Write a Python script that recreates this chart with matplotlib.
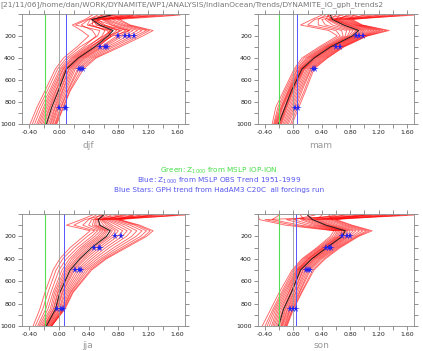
import matplotlib
matplotlib.use('Agg')
import matplotlib.pyplot as plt
from matplotlib.ticker import MultipleLocator

levels = [1000, 850, 700, 500, 400, 300, 200, 150, 100, 50, 10]

djf_members = [
    [-0.39, -0.30, -0.19, -0.05, 0.06, 0.24, 0.40, 0.30, 0.18, 0.35, 0.45],
    [-0.36, -0.27, -0.16, -0.02, 0.10, 0.28, 0.52, 0.55, 0.22, 0.38, 0.60],
    [-0.33, -0.24, -0.13, 0.01, 0.13, 0.33, 0.50, 0.45, 0.30, 0.40, 0.52],
    [-0.30, -0.21, -0.11, 0.03, 0.16, 0.36, 0.60, 0.70, 0.38, 0.42, 0.80],
    [-0.28, -0.19, -0.09, 0.05, 0.18, 0.39, 0.58, 0.62, 0.45, 0.45, 0.65],
    [-0.26, -0.17, -0.07, 0.06, 0.20, 0.41, 0.66, 0.85, 0.50, 0.47, 1.00],
    [-0.24, -0.15, -0.05, 0.08, 0.22, 0.43, 0.62, 0.70, 0.52, 0.44, 0.72],
    [-0.22, -0.13, -0.04, 0.09, 0.24, 0.45, 0.64, 0.72, 0.55, 0.48, 0.58],
    [-0.20, -0.12, -0.02, 0.10, 0.25, 0.47, 0.72, 0.95, 0.58, 0.50, 1.20],
    [-0.18, -0.10, -0.01, 0.11, 0.27, 0.49, 0.68, 0.78, 0.60, 0.46, 0.68],
    [-0.16, -0.08, 0.01, 0.13, 0.28, 0.51, 0.71, 0.82, 0.62, 0.52, 0.90],
    [-0.14, -0.06, 0.02, 0.14, 0.30, 0.53, 0.70, 0.65, 0.40, 0.55, 1.40],
    [-0.12, -0.05, 0.04, 0.16, 0.32, 0.56, 0.78, 0.90, 0.70, 0.50, 0.75],
    [-0.11, -0.03, 0.05, 0.18, 0.34, 0.58, 0.82, 0.95, 0.72, 0.58, 1.10],
    [-0.09, -0.02, 0.07, 0.20, 0.36, 0.61, 0.86, 1.00, 0.76, 0.60, 0.85],
    [-0.08, 0.00, 0.09, 0.22, 0.39, 0.65, 0.92, 1.06, 0.82, 0.62, 1.55],
    [-0.06, 0.02, 0.11, 0.25, 0.42, 0.69, 0.98, 1.12, 0.86, 0.66, 0.95],
    [-0.05, 0.03, 0.12, 0.27, 0.45, 0.73, 1.03, 1.18, 0.90, 0.72, 1.30],
    [-0.04, 0.05, 0.14, 0.30, 0.48, 0.78, 1.08, 1.22, 0.94, 0.78, 1.63],
    [-0.03, 0.06, 0.15, 0.33, 0.50, 0.82, 1.13, 1.27, 0.96, 0.82, 1.00],
]
djf_mean = [-0.17, -0.10, -0.01, 0.10, 0.26, 0.48, 0.66, 0.73, 0.55, 0.44, 0.70]

mam_members = [
    [-0.30, -0.25, -0.14, 0.01, 0.12, 0.36, 0.62, 0.50, 0.10, 0.26, 0.40],
    [-0.28, -0.22, -0.12, 0.03, 0.15, 0.39, 0.66, 0.60, 0.20, 0.30, 0.55],
    [-0.27, -0.20, -0.10, 0.05, 0.18, 0.42, 0.70, 0.68, 0.35, 0.35, 0.45],
    [-0.26, -0.18, -0.08, 0.06, 0.20, 0.44, 0.73, 0.75, 0.45, 0.40, 0.70],
    [-0.25, -0.17, -0.07, 0.08, 0.22, 0.46, 0.76, 0.80, 0.55, 0.45, 0.50],
    [-0.24, -0.16, -0.06, 0.09, 0.24, 0.48, 0.78, 0.84, 0.62, 0.48, 0.90],
    [-0.23, -0.15, -0.05, 0.10, 0.26, 0.49, 0.80, 0.88, 0.66, 0.50, 0.60],
    [-0.22, -0.13, -0.04, 0.11, 0.27, 0.51, 0.82, 0.90, 0.70, 0.52, 1.10],
    [-0.21, -0.12, -0.03, 0.12, 0.29, 0.52, 0.84, 0.93, 0.73, 0.55, 0.48],
    [-0.20, -0.11, -0.02, 0.13, 0.30, 0.54, 0.86, 0.96, 0.76, 0.57, 0.80],
    [-0.19, -0.10, -0.01, 0.14, 0.31, 0.55, 0.87, 0.99, 0.78, 0.58, 1.30],
    [-0.18, -0.09, 0.00, 0.15, 0.33, 0.57, 0.89, 1.02, 0.80, 0.60, 0.65],
    [-0.17, -0.07, 0.02, 0.16, 0.35, 0.59, 0.91, 1.06, 0.83, 0.62, 1.50],
    [-0.15, -0.05, 0.04, 0.18, 0.37, 0.61, 0.93, 1.10, 0.86, 0.65, 0.75],
    [-0.13, -0.03, 0.06, 0.20, 0.39, 0.63, 0.95, 1.14, 0.88, 0.68, 1.72],
    [-0.11, -0.01, 0.08, 0.22, 0.41, 0.65, 0.97, 1.18, 0.90, 0.72, 1.00],
    [-0.09, 0.01, 0.10, 0.24, 0.43, 0.67, 0.99, 1.22, 0.92, 0.75, 1.20],
    [-0.07, 0.03, 0.12, 0.25, 0.45, 0.68, 1.01, 1.26, 0.94, 0.78, 0.85],
    [-0.04, 0.05, 0.15, 0.27, 0.47, 0.70, 1.03, 1.31, 0.96, 0.80, 1.60],
    [-0.02, 0.075, 0.17, 0.29, 0.48, 0.71, 1.04, 1.35, 0.97, 0.83, 1.40],
]
mam_mean = [-0.21, -0.12, -0.03, 0.12, 0.29, 0.52, 0.83, 0.92, 0.71, 0.55, 0.52]

jja_members = [
    [-0.35, -0.26, -0.19, -0.08, 0.01, 0.15, 0.33, 0.42, 0.10, 0.30, 0.45],
    [-0.32, -0.22, -0.15, -0.04, 0.05, 0.20, 0.38, 0.48, 0.20, 0.35, 0.60],
    [-0.29, -0.18, -0.11, 0.00, 0.10, 0.25, 0.44, 0.52, 0.32, 0.40, 0.50],
    [-0.27, -0.15, -0.08, 0.04, 0.14, 0.29, 0.48, 0.56, 0.40, 0.44, 0.80],
    [-0.25, -0.12, -0.06, 0.07, 0.17, 0.32, 0.52, 0.59, 0.45, 0.47, 0.55],
    [-0.23, -0.10, -0.04, 0.09, 0.20, 0.35, 0.55, 0.62, 0.48, 0.49, 1.00],
    [-0.21, -0.08, -0.02, 0.11, 0.23, 0.38, 0.58, 0.64, 0.50, 0.50, 0.65],
    [-0.20, -0.07, -0.01, 0.13, 0.25, 0.41, 0.61, 0.66, 0.53, 0.52, 1.20],
    [-0.19, -0.05, 0.01, 0.15, 0.28, 0.44, 0.64, 0.69, 0.56, 0.53, 0.58],
    [-0.18, -0.04, 0.02, 0.17, 0.30, 0.47, 0.67, 0.72, 0.60, 0.55, 0.90],
    [-0.17, -0.03, 0.04, 0.19, 0.33, 0.50, 0.70, 0.76, 0.64, 0.57, 1.40],
    [-0.16, -0.02, 0.05, 0.21, 0.36, 0.54, 0.74, 0.80, 0.68, 0.58, 0.70],
    [-0.15, 0.00, 0.07, 0.24, 0.40, 0.58, 0.79, 0.86, 0.72, 0.60, 1.55],
    [-0.14, 0.01, 0.09, 0.27, 0.44, 0.63, 0.85, 0.92, 0.78, 0.63, 0.85],
    [-0.13, 0.03, 0.11, 0.30, 0.48, 0.68, 0.91, 0.98, 0.84, 0.66, 1.70],
    [-0.12, 0.04, 0.13, 0.33, 0.52, 0.74, 0.98, 1.05, 0.90, 0.70, 1.10],
    [-0.11, 0.05, 0.15, 0.36, 0.56, 0.79, 1.04, 1.12, 0.96, 0.74, 1.30],
    [-0.10, 0.06, 0.16, 0.39, 0.59, 0.84, 1.10, 1.18, 1.02, 0.78, 1.00],
    [-0.10, 0.07, 0.18, 0.42, 0.62, 0.88, 1.15, 1.23, 1.06, 0.80, 1.60],
    [-0.10, 0.08, 0.19, 0.44, 0.64, 0.91, 1.18, 1.27, 1.09, 0.82, 1.25],
]
jja_mean = [-0.17, -0.05, 0.01, 0.15, 0.28, 0.44, 0.64, 0.69, 0.55, 0.53, 0.60]

son_members = [
    [-0.44, -0.32, -0.20, -0.02, 0.12, 0.33, 0.52, 0.57, -0.11, -0.48, -0.50],
    [-0.40, -0.29, -0.17, 0.00, 0.14, 0.35, 0.55, 0.60, 0.00, -0.40, 1.20],
    [-0.37, -0.27, -0.15, 0.02, 0.16, 0.37, 0.58, 0.62, 0.10, -0.30, -0.20],
    [-0.34, -0.25, -0.13, 0.04, 0.18, 0.39, 0.60, 0.64, 0.20, -0.10, 0.80],
    [-0.31, -0.23, -0.11, 0.05, 0.20, 0.41, 0.62, 0.66, 0.28, 0.00, 0.30],
    [-0.29, -0.21, -0.09, 0.06, 0.21, 0.42, 0.64, 0.68, 0.33, 0.10, 1.40],
    [-0.27, -0.19, -0.07, 0.07, 0.22, 0.43, 0.65, 0.69, 0.37, 0.15, 0.10],
    [-0.25, -0.17, -0.06, 0.08, 0.24, 0.45, 0.67, 0.71, 0.41, 0.20, 0.60],
    [-0.23, -0.15, -0.04, 0.09, 0.25, 0.46, 0.68, 0.72, 0.44, 0.24, 1.00],
    [-0.21, -0.14, -0.03, 0.10, 0.26, 0.47, 0.69, 0.73, 0.46, 0.27, 0.20],
    [-0.20, -0.12, -0.02, 0.11, 0.27, 0.48, 0.71, 0.75, 0.49, 0.30, 1.60],
    [-0.18, -0.11, 0.00, 0.13, 0.29, 0.50, 0.73, 0.77, 0.52, 0.33, 0.40],
    [-0.17, -0.09, 0.01, 0.14, 0.30, 0.52, 0.75, 0.80, 0.55, 0.36, 1.10],
    [-0.16, -0.08, 0.03, 0.16, 0.32, 0.54, 0.77, 0.84, 0.59, 0.40, 0.70],
    [-0.15, -0.06, 0.04, 0.18, 0.34, 0.56, 0.79, 0.88, 0.63, 0.44, 1.70],
    [-0.13, -0.05, 0.06, 0.20, 0.36, 0.58, 0.82, 0.93, 0.68, 0.48, 0.90],
    [-0.12, -0.04, 0.08, 0.22, 0.38, 0.60, 0.85, 0.98, 0.72, 0.52, 1.30],
    [-0.11, -0.02, 0.09, 0.24, 0.40, 0.62, 0.88, 1.03, 0.76, 0.55, 0.50],
    [-0.10, -0.01, 0.11, 0.27, 0.43, 0.64, 0.90, 1.07, 0.80, 0.58, 1.50],
    [-0.09, 0.00, 0.12, 0.29, 0.45, 0.66, 0.92, 1.11, 0.83, 0.60, 1.00],
]
son_mean = [-0.21, -0.14, -0.03, 0.10, 0.26, 0.47, 0.69, 0.73, 0.46, 0.27, 0.20]

# HadAM3 stars (blue), one list of trends per level
star_levels = [200, 300, 500, 850]
djf_stars = [[0.79, 0.89, 0.94, 1.01], [0.55, 0.62, 0.65], [0.27, 0.30, 0.33], [0.00, 0.08, 0.10]]
mam_stars = [[0.875, 0.92, 0.98], [0.60, 0.65], [0.28, 0.30], [0.02, 0.06]]
jja_stars = [[0.76, 0.835], [0.47, 0.54, 0.55], [0.22, 0.27, 0.30], [-0.03, 0.02, 0.06]]
son_stars = [[0.68, 0.75, 0.80], [0.46, 0.50, 0.53], [0.17, 0.20, 0.24], [-0.05, -0.01, 0.03]]

# Z1000 from MSLP: IOP-ION (green) and OBS trend (blue)
seasons = ['djf', 'mam', 'jja', 'son']
green_z1000 = [-0.19, -0.21, -0.19, -0.20]
blue_z1000 = [0.10, 0.056, 0.07, 0.03]

members = [djf_members, mam_members, jja_members, son_members]
means = [djf_mean, mam_mean, jja_mean, son_mean]
stars = [djf_stars, mam_stars, jja_stars, son_stars]

W, H = 423, 351
fig = plt.figure(figsize=(W / 100, H / 100), dpi=100)

# panel boxes in pixels: left, top, width, height
boxes = [(22, 14, 163, 110), (258, 14, 156, 110), (22, 214, 163, 112), (258, 214, 156, 112)]
label_pos = [(88, 146), (321, 146), (88, 346), (321, 346)]

for i in range(4):
    l, t, w, h = boxes[i]
    ax = fig.add_axes([l / W, (H - t - h) / H, w / W, h / H])
    for m in members[i]:
        ax.plot(m, levels, color='red', alpha=0.6, lw=0.65)
    ax.plot(means[i], levels, color='#222222', lw=0.7)
    ax.axvline(0, color='#999999', lw=0.6)
    ax.axvline(green_z1000[i], color='#55dd55', lw=0.8)
    ax.axvline(blue_z1000[i], color='#5555ff', lw=0.7)
    for lev, xs in zip(star_levels, stars[i]):
        ax.plot(xs, [lev] * len(xs), ls='none', marker='*', color='#2222ee', ms=5.5, mew=0)
    ax.set_xlim(-0.5, 1.7)
    ax.set_ylim(1000, 0)
    ax.xaxis.set_minor_locator(MultipleLocator(0.2))
    ax.yaxis.set_minor_locator(MultipleLocator(100))
    ax.set_xticks([-0.4, 0.0, 0.4, 0.8, 1.2, 1.6])
    ax.set_xticklabels(['-0.40', '0.00', '0.40', '0.80', '1.20', '1.60'])
    ax.set_yticks([200, 400, 600, 800, 1000])
    ax.tick_params(which='both', direction='out', top=True, right=True, labelsize=4.5,
                   color='#666666', labelcolor='#222222', width=0.5, length=3, pad=1.5)
    for s in ax.spines.values():
        s.set_color('#888888')
        s.set_linewidth(0.6)
    fig.text(label_pos[i][0] / W, 1 - label_pos[i][1] / H, seasons[i], color='#999999',
             fontsize=6.5, ha='center', va='center')

fig.text(0.0, 1 - 5 / H, '[21/11/06]/home/dan/WORK/DYNAMITE/WP1/ANALYSIS/IndianOcean/Trends/DYNAMITE_IO_gph_trends2',
         color='#777777', fontsize=5.4, ha='left', va='center')
fig.text(219 / W, 1 - 171 / H, 'Green: Z$_{1000}$ from MSLP IOP-ION', color='#44dd44',
         fontsize=5.2, ha='center', va='center')
fig.text(219 / W, 1 - 181 / H, 'Blue: Z$_{1000}$ from MSLP OBS Trend 1951-1999', color='#5555ee',
         fontsize=5.2, ha='center', va='center')
fig.text(219 / W, 1 - 190 / H, 'Blue Stars: GPH trend from HadAM3 C20C  all forcings run', color='#5555ee',
         fontsize=5.2, ha='center', va='center')

fig.savefig('out.png', dpi=100)
